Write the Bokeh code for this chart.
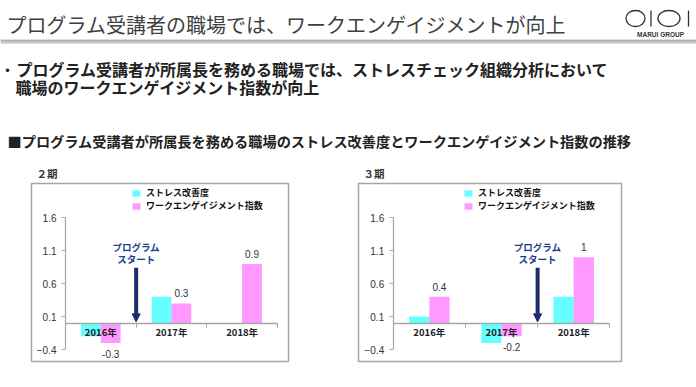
import numpy as np
from bokeh.plotting import figure
from bokeh.models import (Range1d, LinearAxis, FixedTicker, Arrow, NormalHead,
                          Legend, LegendItem, ColumnDataSource, Spacer)
from bokeh.layouts import column, row
from bokeh.embed import file_html
from bokeh.resources import INLINE
from bokeh.core.properties import value

# ---------------- data ----------------
years = ["2016年", "2017年", "2018年"]
stress_2 = [-0.2, 0.4, 0.0]
engage_2 = [-0.3, 0.3, 0.9]
engage_labels_2 = ["-0.3", "0.3", "0.9"]
stress_3 = [0.1, -0.3, 0.4]
engage_3 = [0.4, -0.2, 1.0]
engage_labels_3 = ["0.4", "-0.2", "1"]
y_ticks = [-0.4, 0.1, 0.6, 1.1, 1.6]
program_start_2 = 1   # boundary between 2016 and 2017
program_start_3 = 2   # boundary between 2017 and 2018
series_names = ["ストレス改善度", "ワークエンゲイジメント指数"]

title_text = "プログラム受講者の職場では、ワークエンゲイジメントが向上"
bullet_lines = ["プログラム受講者が所属長を務める職場では、ストレスチェック組織分析において",
                "職場のワークエンゲイジメント指数が向上"]
section_text = "■プログラム受講者が所属長を務める職場のストレス改善度とワークエンゲイジメント指数の推移"

CYAN = "#66ffff"
PINK = "#ff99ff"
NAVY = "#1c2c6e"
BLUE_TXT = "#203a8f"
JP = "Noto Sans CJK JP"
GRAY = "#a6a6a6"


def make_chart(w, xr, stress, engage, labels, start, legend_x):
    p = figure(width=w, height=182, x_range=Range1d(*xr), y_range=Range1d(-0.582, 2.121),
               output_backend="svg", toolbar_location=None,
               x_axis_type=None, y_axis_type=None,
               min_border_left=2, min_border_right=2, min_border_top=2, min_border_bottom=2)
    p.outline_line_color = GRAY
    p.outline_line_width = 1.5
    p.background_fill_color = "white"
    p.border_fill_color = "white"

    xc = np.arange(len(years)) + 0.5
    bw = 0.28
    r1 = p.vbar(x=list(xc - bw / 2), top=stress, bottom=0, width=bw,
                fill_color=CYAN, line_color=None)
    r2 = p.vbar(x=list(xc + bw / 2), top=engage, bottom=0, width=bw,
                fill_color=PINK, line_color=None)

    # y axis
    yax = LinearAxis(fixed_location=0, bounds=(-0.4, 1.6),
                     ticker=FixedTicker(ticks=y_ticks, minor_ticks=[]))
    yax.axis_line_color = GRAY
    yax.axis_line_width = 1.2
    yax.major_tick_line_color = GRAY
    yax.major_tick_out = 4
    yax.major_tick_in = 0
    yax.major_label_standoff = 5
    yax.major_label_text_font = "Liberation Sans"
    yax.major_label_text_font_size = "10px"
    yax.major_label_text_color = "#333333"
    p.add_layout(yax, "left")

    # x axis at y=0
    xax = LinearAxis(fixed_location=0, bounds=(0, len(years)),
                     ticker=FixedTicker(ticks=list(xc), minor_ticks=list(range(len(years) + 1))))
    xax.major_label_overrides = {float(c): y for c, y in zip(xc, years)}
    xax.axis_line_color = GRAY
    xax.axis_line_width = 1.5
    xax.major_tick_line_color = None
    xax.major_tick_out = 0
    xax.major_tick_in = 0
    xax.minor_tick_line_color = GRAY
    xax.minor_tick_out = 4
    xax.minor_tick_in = 0
    xax.major_label_standoff = -2
    xax.major_label_text_font = JP
    xax.major_label_text_font_style = "bold"
    xax.major_label_text_font_size = "9.5px"
    xax.major_label_text_color = "#222222"
    p.add_layout(xax, "below")

    # value labels for engagement series
    src = ColumnDataSource(dict(x=list(xc + bw / 2), y=engage, t=labels,
                                off=[-10 if v >= 0 else 11 for v in engage]))
    p.text(x="x", y="y", text="t", y_offset="off", source=src,
           text_align="center", text_baseline="middle",
           text_font=value("Liberation Sans"), text_font_size="10px", text_color="#333333")

    # program start arrow
    p.add_layout(Arrow(end=NormalHead(size=8, fill_color=NAVY, line_color=NAVY, line_width=1),
                       x_start=start, y_start=0.84, x_end=start, y_end=0.02,
                       line_color=NAVY, line_width=4))
    p.text(x=[start, start], y=[0.84, 0.84], text=["プログラム", "スタート"],
           y_offset=[-21, -9],
           text_align="center", text_baseline="middle",
           text_font=value(JP), text_font_style="bold", text_font_size="9.5px",
           text_color=BLUE_TXT)

    legend = Legend(items=[LegendItem(label=series_names[0], renderers=[r1]),
                           LegendItem(label=series_names[1], renderers=[r2])],
                    location=(legend_x, 149))
    legend.label_text_font = JP
    legend.label_text_font_style = "bold"
    legend.label_text_font_size = "9px"
    legend.label_text_color = "#111111"
    legend.glyph_width = 10
    legend.glyph_height = 8
    legend.label_height = 10
    legend.label_standoff = 5
    legend.spacing = -2
    legend.padding = 0
    legend.margin = 0
    legend.border_line_color = None
    legend.background_fill_alpha = 0
    p.add_layout(legend)
    return p


# ---------------- header ----------------
h = figure(width=696, height=181, x_range=Range1d(0, 696), y_range=Range1d(181, 0),
           output_backend="svg", toolbar_location=None, x_axis_type=None, y_axis_type=None,
           min_border=0)
h.outline_line_color = None
h.grid.visible = False

h.text(x=[6], y=[24], text=[title_text], text_align="left", text_baseline="middle",
       text_font=value(JP), text_font_size="20px", text_color="#404040")
h.quad(left=[0], right=[696], top=[39.3], bottom=[43], fill_color="#c4c4c4", line_color=None)
h.quad(left=[0], right=[696], top=[39.3], bottom=[40.5], fill_color="#b0b0b0", line_color=None)

# logo
h.ellipse(x=[635, 668.5], y=[18, 18], width=[19, 22], height=[16, 16],
          fill_color=None, line_color="#333333", line_width=1.3)
h.segment(x0=[650.5, 688], y0=[10, 10], x1=[650.5, 688], y1=[26, 26],
          line_color="#333333", line_width=1.3)
h.text(x=[660], y=[33.5], text=["MARUI GROUP"], text_align="center", text_baseline="middle",
       text_font=value("Liberation Sans"), text_font_style="bold", text_font_size="6.5px",
       text_color="#333333")

# bullet text
h.text(x=[7], y=[68.5], text=["・"], text_align="center", text_baseline="middle",
       text_font=value(JP), text_font_size="16px", text_color="#222222")
h.text(x=[16, 15], y=[68.5, 86.7], text=bullet_lines, text_align="left", text_baseline="middle",
       text_font=value(JP), text_font_style="bold", text_font_size="16px", text_color="#222222")

h.text(x=[7], y=[140], text=[section_text], text_align="left", text_baseline="middle",
       text_font=value(JP), text_font_style="bold", text_font_size="14.2px", text_color="#222222")

h.text(x=[36, 363], y=[173, 173], text=["２期", "３期"], text_align="left", text_baseline="middle",
       text_font=value(JP), text_font_style="bold", text_font_size="10.5px", text_color="#333333")

# ---------------- charts ----------------
c1 = make_chart(261, (-0.481, 3.156), stress_2, engage_2, engage_labels_2, program_start_2, 100)
c2 = make_chart(267, (-0.481, 3.162), stress_3, engage_3, engage_labels_3, program_start_3, 105)

layout = column(h, row(Spacer(width=29, height=182), c1, Spacer(width=66, height=182), c2))

open("out.html", "w").write(file_html(layout, INLINE))
